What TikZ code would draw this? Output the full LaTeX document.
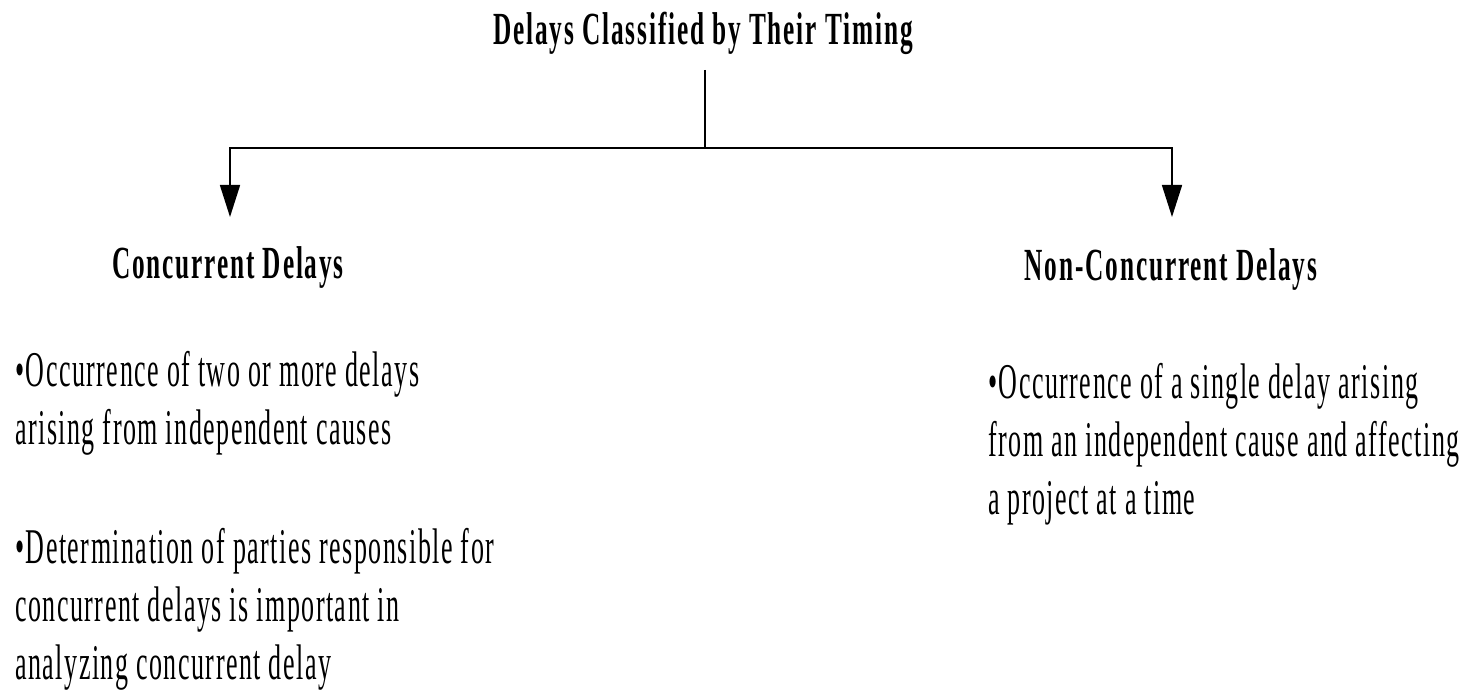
\documentclass[tikz,border=0pt]{standalone}
\usepackage{fontspec}
\setmainfont{Liberation Serif}
\newfontfamily\headserif[FakeStretch=0.55,LetterSpace=4]{Liberation Serif}
\newfontfamily\bodyserif[FakeStretch=0.52,LetterSpace=3]{Liberation Serif}
\usetikzlibrary{arrows.meta}
\begin{document}
\begin{tikzpicture}[x=1pt,y=-1pt,
  heading/.style={inner sep=0pt,font=\headserif\bfseries\fontsize{46}{52}\selectfont},
  bodytext/.style={inner sep=0pt,align=left,font=\bodyserif\fontsize{50}{58}\selectfont},
  link/.style={line width=1.6pt},
  branch/.style={link,-{Triangle[length=32pt,width=20pt]}}]
\useasboundingbox (0,0) rectangle (1472,695);

% title and the two classes
\node[heading,anchor=base] (root) at (703,45) {Delays Classified by Their Timing};
\node[heading,anchor=base] (conc) at (228,278) {Concurrent Delays};
\node[heading,anchor=base] (nonc) at (1171,280) {Non-Concurrent Delays};

% junction points of the tree
\coordinate (stem) at (705,70);
\coordinate (hub) at (705,148);
\coordinate (lcorner) at (230,148);
\coordinate (rcorner) at (1172,148);
\coordinate (ltip) at (230,217);
\coordinate (rtip) at (1172,217);

\draw[link] (stem) -- (hub);
\draw[branch] (hub) -- (lcorner) -- (ltip);
\draw[branch] (hub) -- (rcorner) -- (rtip);

% descriptions
\node[bodytext,anchor=north west] (c1) at (15,351)
  {•Occurrence of two or more delays\\arising from independent causes};
\node[bodytext,anchor=north west] (c2) at (15,528)
  {•Determination of parties responsible for\\concurrent delays is important in\\analyzing concurrent delay};
\node[bodytext,anchor=north west] (n1) at (988,363)
  {•Occurrence of a single delay arising\\from an independent cause and affecting\\a project at a time};
\end{tikzpicture}
\end{document}
